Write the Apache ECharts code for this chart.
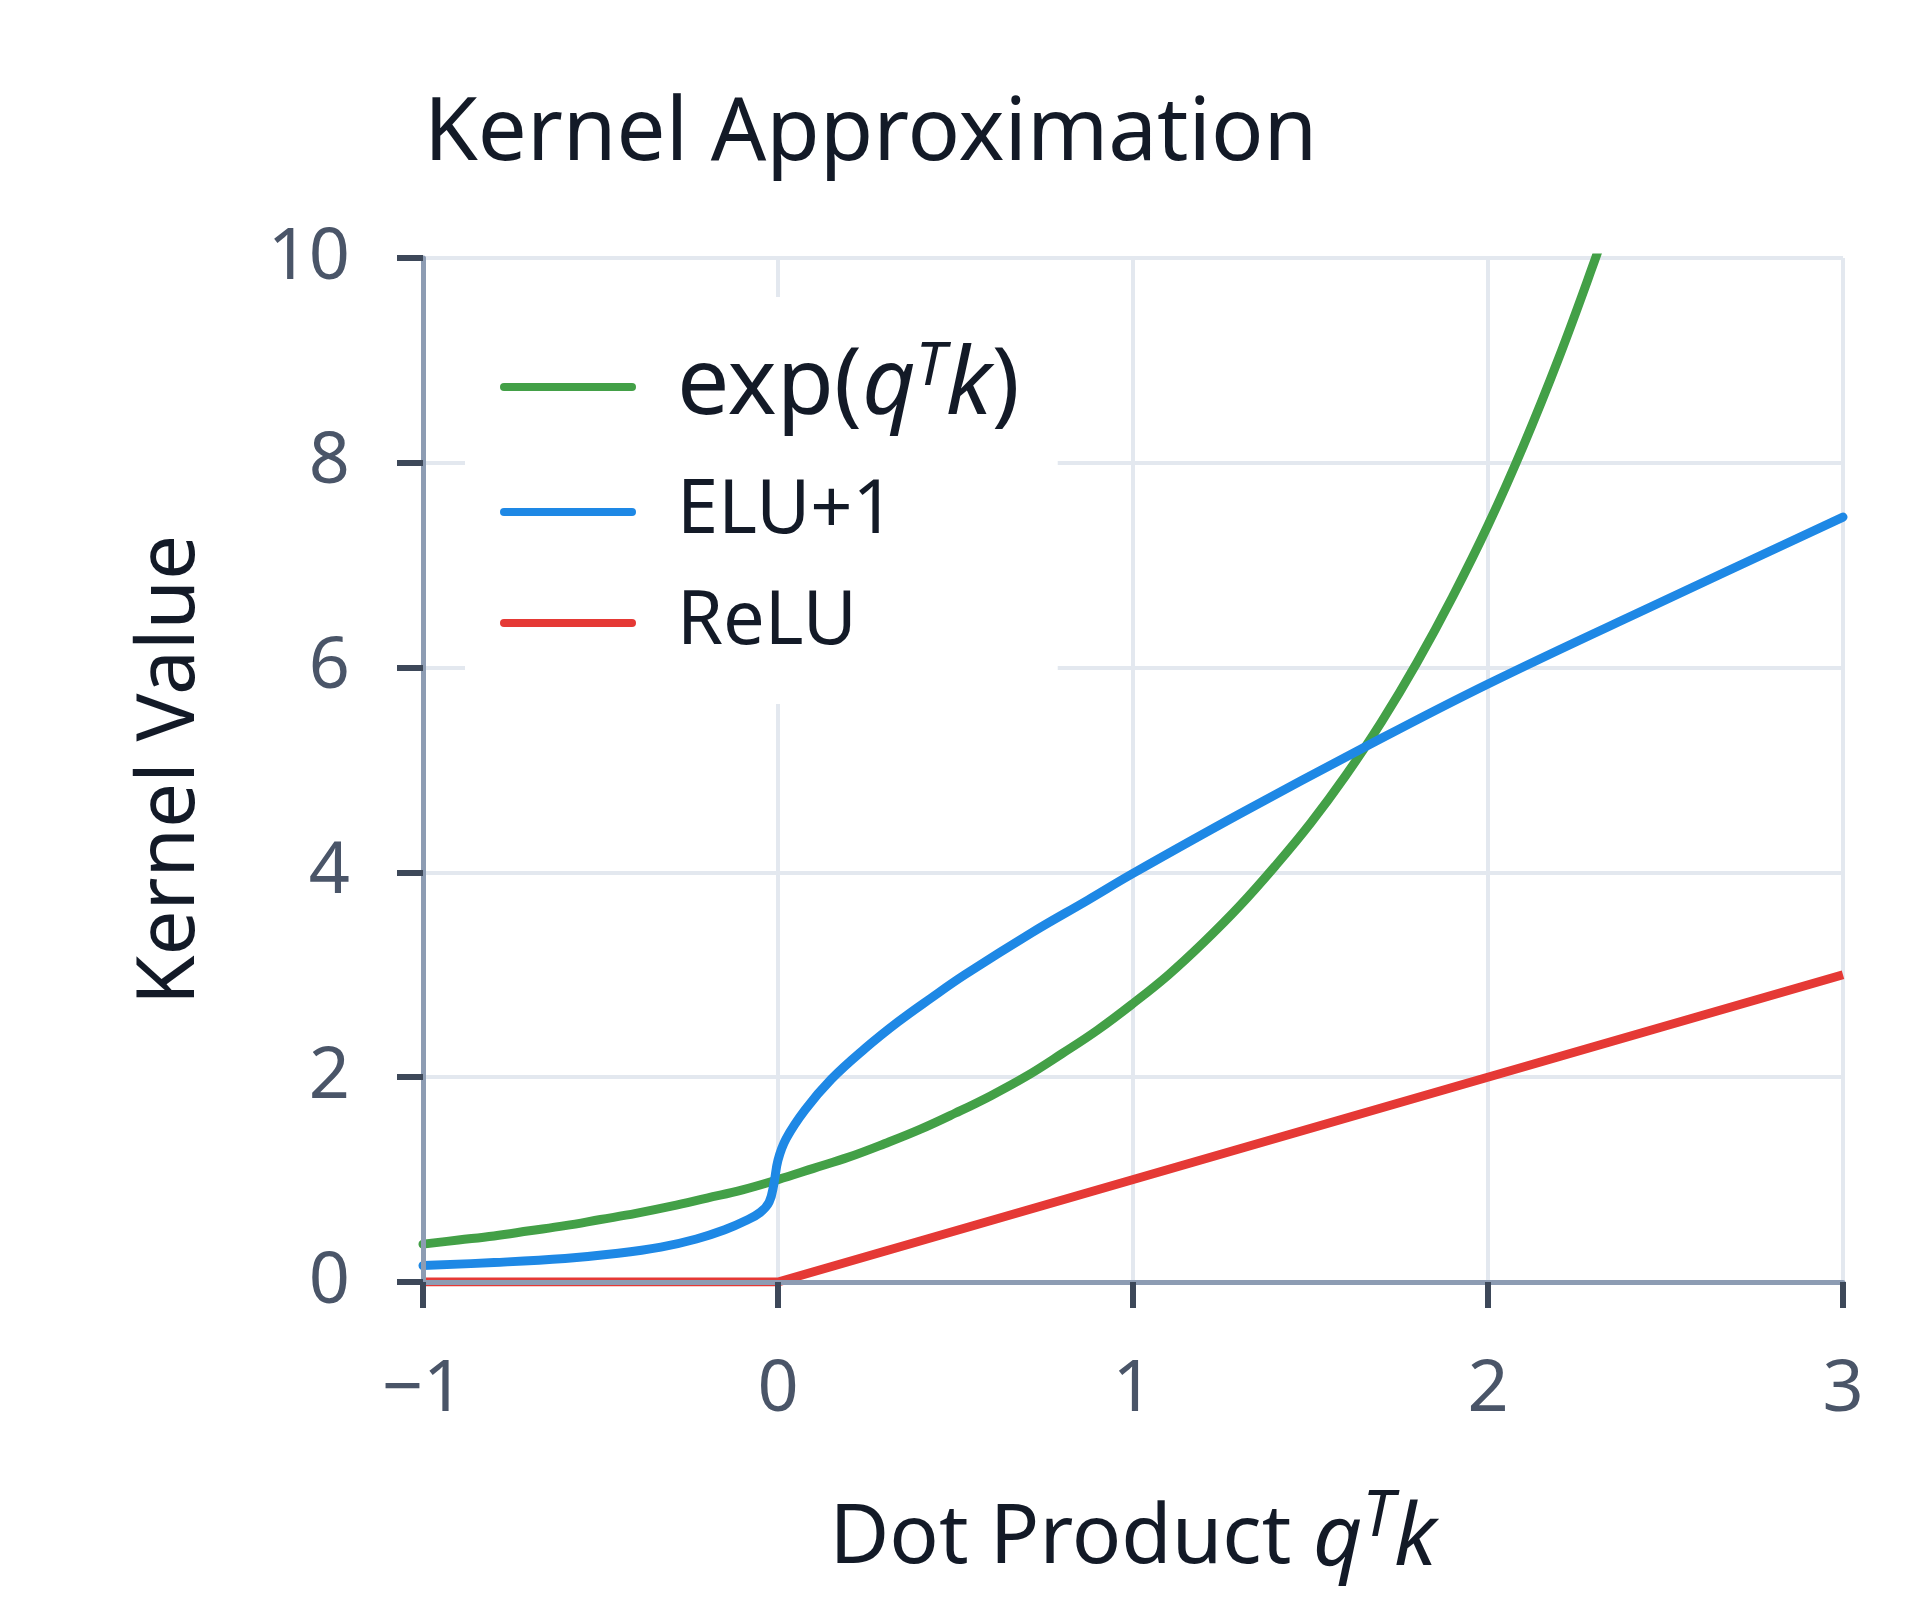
<!DOCTYPE html>
<html>
<head>
<meta charset="utf-8">
<script src="https://cdn.jsdelivr.net/npm/echarts@6/dist/echarts.min.js"></script>
<style>
html,body{margin:0;padding:0;background:#ffffff;}
#chart{width:1920px;height:1600px;}
</style>
</head>
<body>
<div id="chart"></div>
<script>
// ---- data ----
const titleText = 'Kernel Approximation';
const seriesNames = ['exp(qTk)', 'ELU+1', 'ReLU'];
const xTicks = [-1, 0, 1, 2, 3];
const xTickLabels = ['\u22121', '0', '1', '2', '3'];
const yTicks = [0, 2, 4, 6, 8, 10];
const yTickLabels = ['0', '2', '4', '6', '8', '10'];

const expPoints = [
  [-1, 0.37], [-0.9, 0.41], [-0.8, 0.45], [-0.7, 0.50], [-0.6, 0.55], [-0.5, 0.61],
  [-0.4, 0.67], [-0.3, 0.74], [-0.2, 0.82], [-0.1, 0.90], [0, 1.00], [0.1, 1.11],
  [0.2, 1.22], [0.3, 1.35], [0.4, 1.49], [0.5, 1.65], [0.6, 1.82], [0.7, 2.01],
  [0.8, 2.23], [0.9, 2.46], [1.0, 2.72], [1.1, 3.00], [1.2, 3.32], [1.3, 3.67],
  [1.4, 4.06], [1.5, 4.48], [1.6, 4.95], [1.7, 5.47], [1.8, 6.05], [1.9, 6.69],
  [2.0, 7.39], [2.1, 8.17], [2.2, 9.03], [2.3, 9.97], [2.32, 10.18]
];
const eluPoints = [
  [-1, 0.16], [-0.8, 0.19], [-0.6, 0.23], [-0.45, 0.28], [-0.33, 0.34], [-0.23, 0.42],
  [-0.15, 0.51], [-0.09, 0.60], [-0.05, 0.68], [-0.025, 0.78], [-0.012, 0.95],
  [0, 1.19], [0.023, 1.40], [0.076, 1.68], [0.15, 1.98], [0.245, 2.28], [0.338, 2.54],
  [0.43, 2.77], [0.526, 3.00], [0.714, 3.41], [0.873, 3.73], [1.0, 3.99], [1.3, 4.57],
  [1.64, 5.20], [2.0, 5.84], [2.5, 6.66], [3.0, 7.47]
];
const reluPoints = [[-1, 0], [0, 0], [3, 3]];

// ---- styling ----
const FONT = '"Noto Sans", sans-serif';
const colGreen = '#43a047', colBlue = '#1e88e5', colRed = '#e53935';
const colText = '#131a27', colTick = '#4a5568';
const colAxis = '#8d9cb3', colTickMark = '#3d4859', colGrid = '#e3e8ef';

const chart = echarts.init(document.getElementById('chart'), null, {renderer: 'canvas'});

const capsule = 'path://M4,0 L132,0 A4,4 0 0 1 132,8 L4,8 A4,4 0 0 1 4,0 Z';

const option = {
  backgroundColor: '#ffffff',
  animation: false,
  title: {
    text: titleText,
    left: 424,
    top: 92,
    padding: 0,
    textStyle: {fontFamily: FONT, fontSize: 87, fontWeight: 'normal', color: colText}
  },
  grid: {left: 423, top: 258, width: 1420, height: 1024, containLabel: false, outerBoundsMode: 'none'},
  legend: {
    orient: 'vertical',
    left: 465,
    top: 297,
    padding: [36, 38, 41, 35],
    itemGap: 31,
    backgroundColor: '#ffffff',
    borderWidth: 0,
    selectedMode: false,
    icon: capsule,
    itemWidth: 136,
    itemHeight: 8,
    data: seriesNames,
    formatter: function (name) {
      if (name === seriesNames[0]) return '{a|exp(}{i|q}{s|T}{i|k}{a|)}';
      return name;
    },
    textStyle: {
      fontFamily: FONT, fontSize: 74, lineHeight: 80, color: colText,
      padding: [0, 0, 0, 36],
      rich: {
        a: {fontFamily: FONT, fontSize: 93, lineHeight: 108, color: colText},
        i: {fontFamily: FONT, fontSize: 93, lineHeight: 108, fontStyle: 'italic', color: colText},
        s: {fontFamily: FONT, fontSize: 60, fontStyle: 'italic', verticalAlign: 'top', height: 70, color: colText}
      }
    }
  },
  xAxis: [{
    type: 'value', gridIndex: 0, position: 'bottom',
    min: -1, max: 3, interval: 1,
    axisLine: {show: false, onZero: false}, axisTick: {show: false},
    splitLine: {show: true, lineStyle: {color: colGrid, width: 4}},
    axisLabel: {
      show: true, margin: 72, fontFamily: FONT, fontSize: 72, color: colTick,
      formatter: function (v) { const k = xTicks.indexOf(Math.round(v)); return k >= 0 ? xTickLabels[k] : ''; }
    },
    name: '{n|Dot Product }{i|q}{s|T}{i|k}',
    nameLocation: 'middle',
    nameGap: 208,
    nameTextStyle: {
      fontFamily: FONT, fontSize: 82, lineHeight: 100, color: colText,
      rich: {
        n: {fontFamily: FONT, fontSize: 82, lineHeight: 100, color: colText},
        i: {fontFamily: FONT, fontSize: 86, lineHeight: 100, fontStyle: 'italic', color: colText},
        s: {fontFamily: FONT, fontSize: 63, fontStyle: 'italic', verticalAlign: 'top', height: 56, color: colText}
      }
    },
    z: 0
  }, {
    type: 'value', gridIndex: 0, position: 'bottom',
    min: -1, max: 3, interval: 1,
    axisLine: {show: true, onZero: false, lineStyle: {color: colAxis, width: 5}},
    axisTick: {show: true, length: 26, lineStyle: {color: colTickMark, width: 6}},
    axisLabel: {show: false},
    splitLine: {show: false},
    z: 10
  }],
  yAxis: [{
    type: 'value', gridIndex: 0, position: 'left',
    min: 0, max: 10, interval: 2,
    axisLine: {show: false, onZero: false}, axisTick: {show: false},
    splitLine: {show: true, lineStyle: {color: colGrid, width: 4}},
    axisLabel: {
      show: true, margin: 73, fontFamily: FONT, fontSize: 72, color: colTick,
      formatter: function (v) { const k = yTicks.indexOf(Math.round(v)); return k >= 0 ? yTickLabels[k] : ''; }
    },
    name: 'Kernel Value',
    nameLocation: 'middle',
    nameGap: 212,
    nameTextStyle: {fontFamily: FONT, fontSize: 80, color: colText},
    z: 0
  }, {
    type: 'value', gridIndex: 0, position: 'left',
    min: 0, max: 10, interval: 2,
    axisLine: {show: true, onZero: false, lineStyle: {color: colAxis, width: 5}},
    axisTick: {show: true, length: 26, lineStyle: {color: colTickMark, width: 6}},
    axisLabel: {show: false},
    splitLine: {show: false},
    z: 10
  }],
  series: [
    {
      name: seriesNames[0], type: 'line', xAxisIndex: 0, yAxisIndex: 0,
      data: expPoints, smooth: 0.4, showSymbol: false, symbol: 'none', clip: true,
      lineStyle: {color: colGreen, width: 9, cap: 'round', join: 'round'},
      itemStyle: {color: colGreen}, z: 3
    },
    {
      name: seriesNames[1], type: 'line', xAxisIndex: 0, yAxisIndex: 0,
      data: eluPoints, smooth: 0.4, showSymbol: false, symbol: 'none', clip: true,
      lineStyle: {color: colBlue, width: 9, cap: 'round', join: 'round'},
      itemStyle: {color: colBlue}, z: 3
    },
    {
      name: seriesNames[2], type: 'line', xAxisIndex: 0, yAxisIndex: 0,
      data: reluPoints, smooth: false, showSymbol: false, symbol: 'none', clip: true,
      lineStyle: {color: colRed, width: 9, cap: 'butt', join: 'round'},
      itemStyle: {color: colRed}, z: 3
    }
  ]
};
chart.setOption(option);
</script>
</body>
</html>
